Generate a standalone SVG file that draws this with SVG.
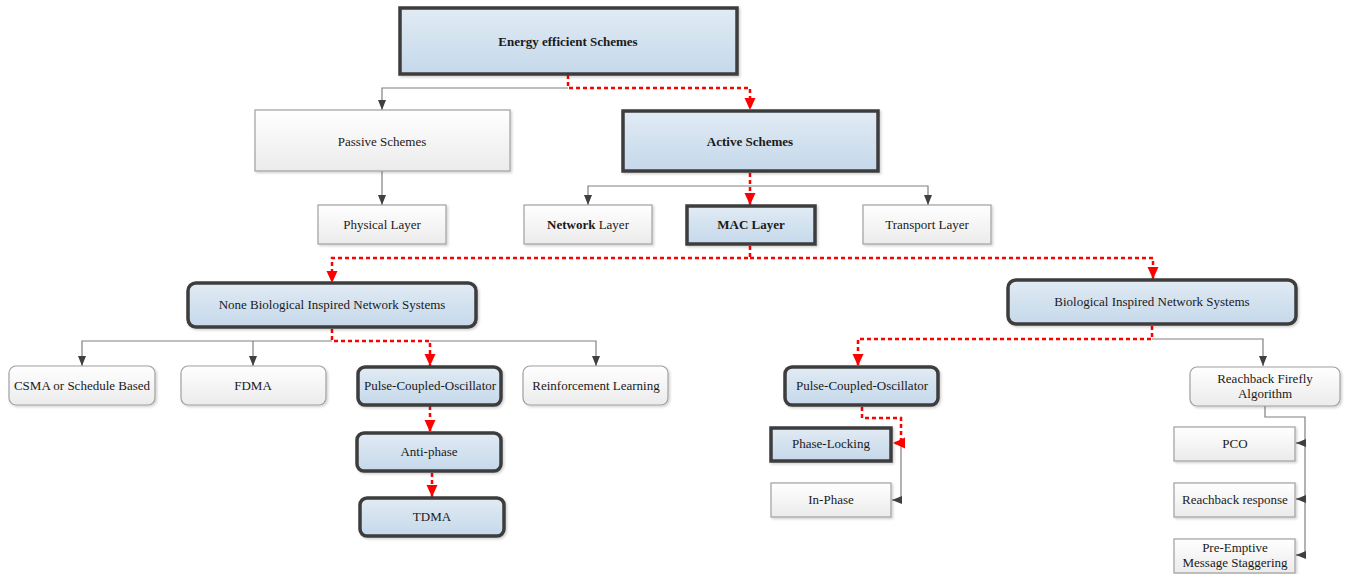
<svg xmlns="http://www.w3.org/2000/svg" width="1350" height="574" viewBox="0 0 1350 574">
  <defs>
    <linearGradient id="gPlain" x1="0" y1="0" x2="0" y2="1">
      <stop offset="0" stop-color="#ffffff"/>
      <stop offset="1" stop-color="#ebebeb"/>
    </linearGradient>
    <linearGradient id="gBlue" x1="0" y1="0" x2="0" y2="1">
      <stop offset="0" stop-color="#e1ebf4"/>
      <stop offset="1" stop-color="#c5d8ea"/>
    </linearGradient>
    <filter id="shadow" x="-5%" y="-10%" width="115%" height="130%">
      <feDropShadow dx="1.5" dy="1.5" stdDeviation="1" flood-color="#000" flood-opacity="0.18"/>
    </filter>
    <marker id="aGray" markerUnits="userSpaceOnUse" markerWidth="10" markerHeight="10" viewBox="0 0 10 10" refX="10" refY="5" orient="auto">
      <path d="M0,1 L10,5 L0,9 Z" fill="#404040"/>
    </marker>
    <marker id="aRed" markerUnits="userSpaceOnUse" markerWidth="12" markerHeight="12" viewBox="0 0 12 12" refX="12" refY="6" orient="auto">
      <path d="M0,0.5 L12,6 L0,11.5 Z" fill="#ff0000"/>
    </marker>
  </defs>
  <style>
    .plain { fill: url(#gPlain); stroke: #a0a0a0; stroke-width: 1.2; filter: url(#shadow); }
    .key { fill: url(#gBlue); stroke: #3c3c3c; stroke-width: 3.5; filter: url(#shadow); }
    text { font-family: "Liberation Serif", "Times New Roman", serif; font-size: 13px; fill: #1a1a1a; text-anchor: middle; }
    .b { font-weight: bold; }
    .link { fill: none; stroke: #808080; stroke-width: 1.2; }
    .link.arrow { marker-end: url(#aGray); }
    .hot { fill: none; stroke: #ff0000; stroke-width: 2.5; stroke-dasharray: 4 3; }
    .hot.arrow { marker-end: url(#aRed); }
  </style>

  <!-- connectors -->
  <g id="connectors">
    <path class="link arrow" d="M568,88 H382 V110"/>
    <path class="hot arrow" d="M568,75 V88 H750 V110"/>

    <path class="link arrow" d="M382,171 V205"/>

    <path class="link arrow" d="M750,186 H588 V205"/>
    <path class="link arrow" d="M750,186 H928 V205"/>
    <path class="hot arrow" d="M750,173 V205"/>

    <path class="hot arrow" d="M750,246 V258 H332 V283"/>
    <path class="hot arrow" d="M750,258 H1153 V279"/>

    <path class="link arrow" d="M332,341 H82 V366"/>
    <path class="link arrow" d="M253,341 V366"/>
    <path class="link arrow" d="M430,341 H596 V366"/>
    <path class="hot arrow" d="M332,329 V341 H430 V366"/>

    <path class="hot arrow" d="M430,406 V432"/>
    <path class="hot arrow" d="M432,473 V497"/>

    <path class="link arrow" d="M1152,339 H1263 V366"/>
    <path class="hot arrow" d="M1152,326 V339 H858 V366"/>

    <path class="link arrow" d="M901,443 V500 H892"/>
    <path class="hot arrow" d="M862,407 V418 H901 V443 H893"/>

    <path class="link" d="M1265,406 V417 H1305 V555"/>
    <path class="link arrow" d="M1305,443 H1296"/>
    <path class="link arrow" d="M1305,499 H1296"/>
    <path class="link arrow" d="M1305,555 H1296"/>
  </g>

  <!-- nodes -->
  <g id="energy">
    <rect class="key" x="400" y="8" width="337" height="66"/>
    <text class="b" x="568" y="46">Energy efficient Schemes</text>
  </g>
  <g id="passive">
    <rect class="plain" x="255" y="110" width="255" height="61"/>
    <text x="382" y="146">Passive Schemes</text>
  </g>
  <g id="active">
    <rect class="key" x="623" y="111" width="255" height="60"/>
    <text class="b" x="750" y="146">Active Schemes</text>
  </g>
  <g id="physical">
    <rect class="plain" x="318" y="205" width="128" height="39"/>
    <text x="382" y="229">Physical Layer</text>
  </g>
  <g id="network">
    <rect class="plain" x="524" y="205" width="128" height="39"/>
    <text x="588" y="229"><tspan class="b">Network</tspan> Layer</text>
  </g>
  <g id="mac">
    <rect class="key" x="687" y="206" width="128" height="38"/>
    <text class="b" x="751" y="229">MAC Layer</text>
  </g>
  <g id="transport">
    <rect class="plain" x="863" y="205" width="128" height="39"/>
    <text x="927" y="229">Transport Layer</text>
  </g>
  <g id="none-bio">
    <rect class="key" x="188" y="283" width="288" height="44" rx="8"/>
    <text x="332" y="309">None Biological Inspired Network Systems</text>
  </g>
  <g id="bio">
    <rect class="key" x="1008" y="280" width="288" height="44" rx="8"/>
    <text x="1152" y="306">Biological Inspired Network Systems</text>
  </g>
  <g id="csma">
    <rect class="plain" x="9" y="366" width="146" height="39" rx="7"/>
    <text x="82" y="390">CSMA or Schedule Based</text>
  </g>
  <g id="fdma">
    <rect class="plain" x="181" y="366" width="145" height="39" rx="7"/>
    <text x="253" y="390">FDMA</text>
  </g>
  <g id="pco-left">
    <rect class="key" x="358" y="367" width="143" height="38" rx="7"/>
    <text x="430" y="390">Pulse-Coupled-Oscillator</text>
  </g>
  <g id="reinforcement">
    <rect class="plain" x="523" y="366" width="145" height="39" rx="7"/>
    <text x="596" y="390">Reinforcement Learning</text>
  </g>
  <g id="anti-phase">
    <rect class="key" x="357" y="433" width="144" height="38" rx="7"/>
    <text x="429" y="456">Anti-phase</text>
  </g>
  <g id="tdma">
    <rect class="key" x="360" y="498" width="144" height="38" rx="7"/>
    <text x="432" y="521">TDMA</text>
  </g>
  <g id="pco-right">
    <rect class="key" x="785" y="367" width="153" height="38" rx="7"/>
    <text x="862" y="390">Pulse-Coupled-Oscillator</text>
  </g>
  <g id="reachback-firefly">
    <rect class="plain" x="1190" y="367" width="150" height="39" rx="7"/>
    <text x="1265" y="383">Reachback Firefly</text>
    <text x="1265" y="398">Algorithm</text>
  </g>
  <g id="phase-locking">
    <rect class="key" x="771" y="428" width="120" height="33"/>
    <text x="831" y="448">Phase-Locking</text>
  </g>
  <g id="in-phase">
    <rect class="plain" x="771" y="483" width="120" height="34"/>
    <text x="831" y="504">In-Phase</text>
  </g>
  <g id="pco">
    <rect class="plain" x="1174" y="427" width="121" height="34"/>
    <text x="1235" y="448">PCO</text>
  </g>
  <g id="reachback-response">
    <rect class="plain" x="1174" y="483" width="121" height="34"/>
    <text x="1235" y="504">Reachback response</text>
  </g>
  <g id="pre-emptive">
    <rect class="plain" x="1174" y="539" width="121" height="34"/>
    <text x="1235" y="552">Pre-Emptive</text>
    <text x="1235" y="567">Message Staggering</text>
  </g>
</svg>
